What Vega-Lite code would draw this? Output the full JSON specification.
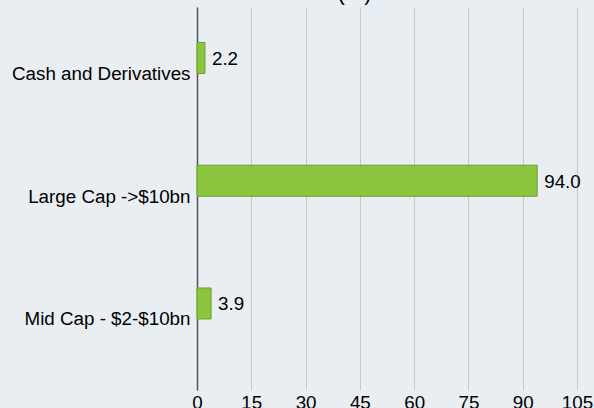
{
  "$schema": "https://vega.github.io/schema/vega-lite/v6.json",
  "autosize": "none",
  "padding": {"left": 197, "top": 7, "right": 0, "bottom": 18},
  "width": 397,
  "height": 383,
  "background": "#e9eef2",
  "title": {
    "text": "(%)",
    "orient": "top",
    "anchor": "middle",
    "frame": "group",
    "dx": -41,
    "offset": -20,
    "baseline": "bottom",
    "fontSize": 22,
    "font": "Liberation Sans",
    "fontWeight": "normal",
    "color": "#000000"
  },
  "config": {
    "view": {"stroke": null},
    "font": "Liberation Sans"
  },
  "data": {
    "values": [
      {"category": "Cash and Derivatives", "value": 2.2},
      {"category": "Large Cap ->$10bn", "value": 94.0},
      {"category": "Mid Cap - $2-$10bn", "value": 3.9}
    ]
  },
  "encoding": {
    "y": {
      "field": "category",
      "type": "nominal",
      "sort": null,
      "scale": {"paddingInner": 0.7475, "paddingOuter": 0.4338, "align": 0.333},
      "axis": {
        "title": null,
        "ticks": false,
        "labelPadding": 7,
        "labelOffset": 16,
        "labelFontSize": 18.8,
        "labelColor": "#000000",
        "labelFont": "Liberation Sans",
        "domainColor": "#555555",
        "domainWidth": 1.5,
        "grid": false
      }
    },
    "x": {
      "field": "value",
      "type": "quantitative",
      "scale": {"domain": [0, 109.7], "nice": false, "zero": true},
      "axis": {
        "title": null,
        "values": [0, 15, 30, 45, 60, 75, 90, 105],
        "domain": false,
        "ticks": false,
        "labelFlush": false,
        "labelOverlap": false,
        "labelPadding": 3,
        "labelFontSize": 18.8,
        "labelColor": "#000000",
        "labelFont": "Liberation Sans",
        "grid": true,
        "gridColor": "#c8c8c8",
        "gridWidth": 1
      }
    }
  },
  "layer": [
    {
      "mark": {"type": "bar", "fill": "#8cc63e", "stroke": "#6e9e30", "strokeWidth": 1}
    },
    {
      "mark": {"type": "text", "align": "left", "baseline": "middle", "dx": 7, "dy": 1, "fontSize": 18.8, "font": "Liberation Sans", "color": "#000000"},
      "encoding": {
        "text": {"field": "value", "type": "quantitative", "format": ".1f"}
      }
    }
  ]
}
